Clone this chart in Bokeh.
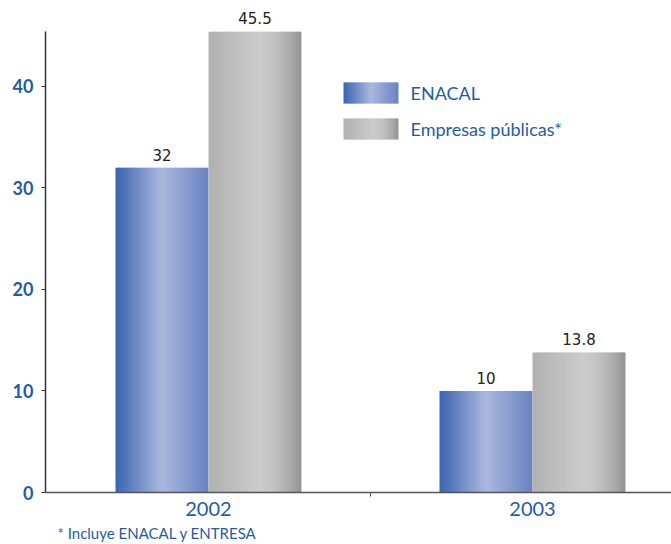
import numpy as np
from bokeh.plotting import figure
from bokeh.models import FixedTicker, ColumnDataSource, BoxAnnotation, Label, Range1d, Title
from bokeh.embed import file_html
from bokeh.resources import INLINE
from bokeh.core.properties import value

# ---- data ----
years = ["2002", "2003"]
enacal = [32, 10]
empresas = [45.5, 13.8]
enacal_labels = ["32", "10"]
empresas_labels = ["45.5", "13.8"]
y_ticks = [0, 10, 20, 30, 40]
series_names = ["ENACAL", "Empresas públicas*"]
footnote = "* Incluye ENACAL y ENTRESA"

# ---- style ----
FONT = "Lato"
BLUE_TXT = "#1f5ca6"
blue_stops = [(0.0, "#3a63af"), (0.5, "#abb8de"), (1.0, "#6882c2")]
gray_stops = [(0.0, "#b1b1b1"), (0.55, "#cccccc"), (0.7, "#c3c3c3"),
              (0.8, "#b6b6b6"), (0.9, "#a6a6a6"), (1.0, "#939393")]
N_STRIPS = 30
BAR_W = 0.287
AXIS_TOP = 45.4


def interp(stops, t):
    for (t0, c0), (t1, c1) in zip(stops[:-1], stops[1:]):
        if t <= t1:
            f = (t - t0) / (t1 - t0) if t1 > t0 else 0
            a = [int(c0[i:i + 2], 16) for i in (1, 3, 5)]
            b = [int(c1[i:i + 2], 16) for i in (1, 3, 5)]
            return "#%02x%02x%02x" % tuple(round(a[k] + (b[k] - a[k]) * f) for k in range(3))
    return stops[-1][1]


strip_colors = {
    "blue": [interp(blue_stops, (i + 0.5) / N_STRIPS) for i in range(N_STRIPS)],
    "gray": [interp(gray_stops, (i + 0.5) / N_STRIPS) for i in range(N_STRIPS)],
}

p = figure(width=671, height=544, output_backend="svg", toolbar_location=None,
           x_range=Range1d(-0.503, 1.429), y_range=Range1d(0, 48.47),
           min_border_left=45, min_border_right=0, min_border_top=0, min_border_bottom=52)
p.outline_line_color = None
p.xgrid.visible = False
p.ygrid.visible = False
p.background_fill_color = "white"

# gradient bars from strips (clipped at the axis top, as in the original)
for vals, offset, key in [(enacal, -BAR_W / 2, "blue"), (empresas, BAR_W / 2, "gray")]:
    xs, tops, cols = [], [], []
    for i, v in enumerate(vals):
        left = i + offset - BAR_W / 2
        for k in range(N_STRIPS):
            xs.append(left + (k + 0.5) * BAR_W / N_STRIPS)
            tops.append(min(v, AXIS_TOP))
            cols.append(strip_colors[key][k])
    src = ColumnDataSource(dict(x=xs, top=tops, c=cols))
    widths = [BAR_W / N_STRIPS * (1.6 if (j % N_STRIPS) != N_STRIPS - 1 else 1.0) for j in range(len(xs))]
    src.data["w"] = widths
    src.data["x"] = [x + (w - BAR_W / N_STRIPS) / 2 for x, w in zip(xs, widths)]
    p.vbar(x="x", top="top", bottom=0, width="w", source=src,
           fill_color="c", line_color=None)

# value labels
xl = [i - BAR_W / 2 for i in range(len(years))] + [i + BAR_W / 2 for i in range(len(years))]
yl = enacal + empresas
tl = enacal_labels + empresas_labels
p.text(x=xl, y=yl, text=tl, text_align="center", text_baseline="bottom", y_offset=-7,
       text_font=value("DejaVu Sans"), text_font_size="15px", text_color="#222222")

# axes
p.yaxis.ticker = FixedTicker(ticks=y_ticks, minor_ticks=[])
p.yaxis.bounds = (0, AXIS_TOP)
p.yaxis.major_tick_out = 4
p.yaxis.major_tick_in = 0
p.yaxis.major_label_text_font = FONT
p.yaxis.major_label_text_font_size = "18px"
p.yaxis.major_label_text_font_style = "bold"
p.yaxis.major_label_text_color = BLUE_TXT
p.yaxis.major_label_standoff = 8
p.yaxis.axis_line_color = "#333333"
p.yaxis.axis_line_width = 1.5
p.yaxis.major_tick_line_color = "#333333"

p.xaxis.ticker = FixedTicker(ticks=list(range(len(years))), minor_ticks=[0.5])
p.xaxis.major_label_overrides = {i: y for i, y in enumerate(years)}
p.xaxis.major_tick_out = 0
p.xaxis.major_tick_in = 0
p.xaxis.minor_tick_out = 4
p.xaxis.minor_tick_in = 0
p.xaxis.minor_tick_line_color = "#555555"
p.xaxis.major_label_text_font = FONT
p.xaxis.major_label_text_font_size = "20px"
p.xaxis.major_label_text_color = BLUE_TXT
p.xaxis.major_label_standoff = 5
p.xaxis.axis_line_color = "#555555"
p.xaxis.axis_line_width = 1.5

# legend (screen units relative to frame, y from bottom)
legend_rows = [(399.5, "blue"), (363.5, "gray")]
SW_L, SW_W, SW_H = 298, 55, 21
for (cy, key), name in zip(legend_rows, series_names):
    for k in range(N_STRIPS):
        l = SW_L + k * SW_W / N_STRIPS
        r = l + SW_W / N_STRIPS * (1.6 if k != N_STRIPS - 1 else 1.0)
        p.add_layout(BoxAnnotation(left=l, right=r,
                                   bottom=cy - SW_H / 2, top=cy + SW_H / 2,
                                   left_units="screen", right_units="screen",
                                   top_units="screen", bottom_units="screen",
                                   fill_color=strip_colors[key][k], fill_alpha=1,
                                   line_color=None))
    p.add_layout(Label(x=365, y=cy, x_units="screen", y_units="screen", text=name,
                       text_font=FONT, text_font_size="18px", text_color=BLUE_TXT,
                       text_baseline="middle", text_align="left"))

p.add_layout(Title(text=footnote, align="left", offset=12, text_font=FONT,
                   text_font_size="15px", text_font_style="normal",
                   text_color=BLUE_TXT, standoff=6), "below")

open("out.html", "w").write(file_html(p, INLINE))
